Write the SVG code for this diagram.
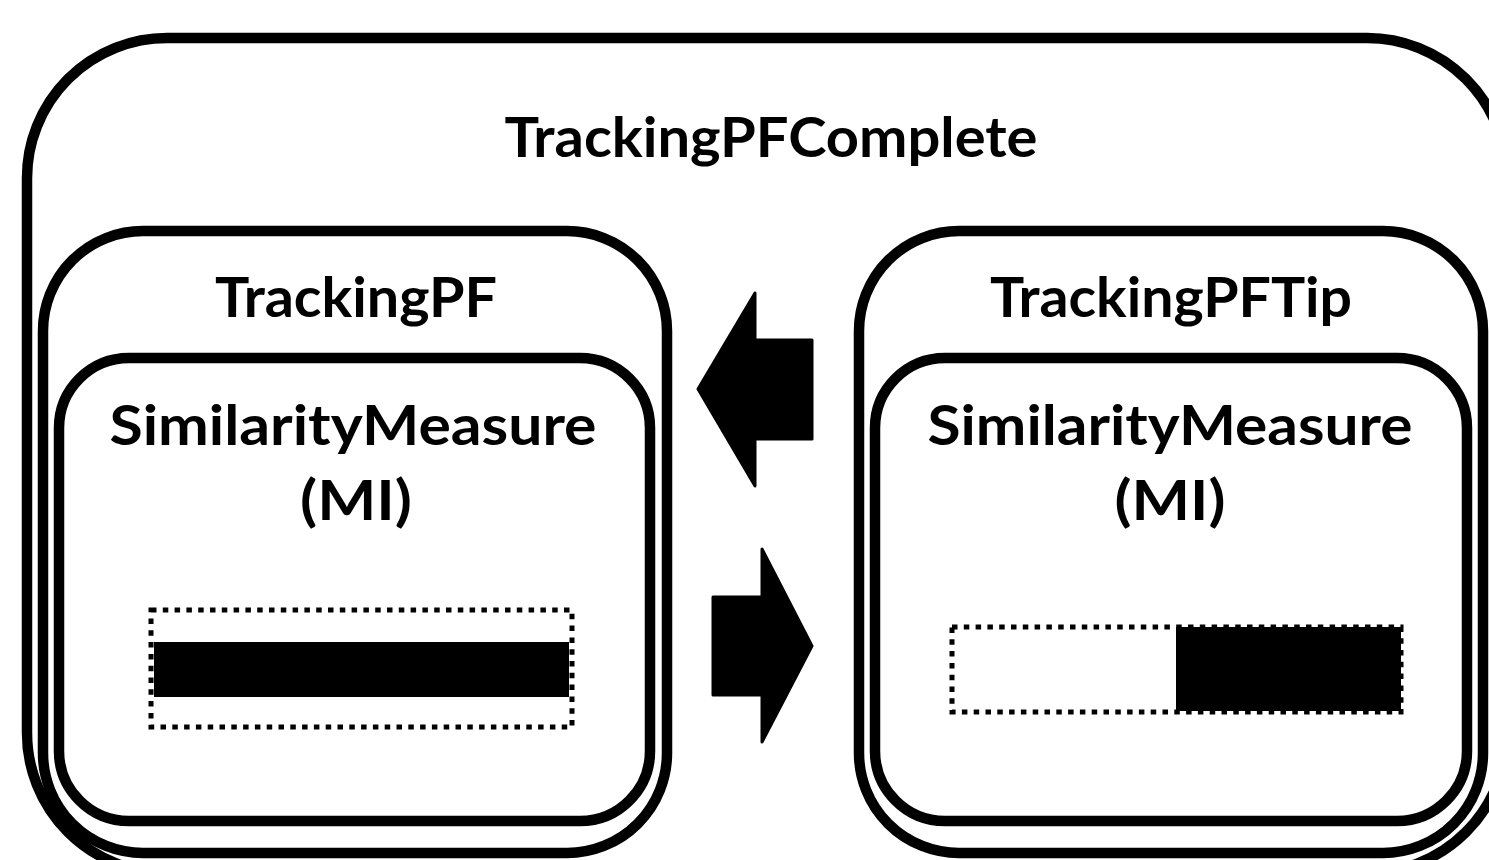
<svg xmlns="http://www.w3.org/2000/svg" width="1489" height="860" viewBox="0 0 1489 860">
  <style>
    .box { fill: none; stroke: #000; stroke-width: 10.5; }
    .lbl { font-family: Lato, "Open Sans", "Liberation Sans", sans-serif; font-weight: bold; font-size: 56px; fill: #000; text-anchor: middle; }
    .dots { fill: none; stroke: #000; stroke-width: 5; stroke-dasharray: 5.5 6.3; }
    .arrow { fill: #000; stroke: #000; stroke-width: 3; stroke-linejoin: round; }
  </style>
  <rect width="1489" height="860" fill="#fff"/>
  <g id="TrackingPFComplete">
    <rect class="box" x="27" y="38" width="1480" height="835" rx="140" ry="140"/>
    <text class="lbl" x="771" y="157" textLength="533" lengthAdjust="spacingAndGlyphs">TrackingPFComplete</text>
  </g>
  <g id="TrackingPF">
    <rect class="box" x="43" y="231" width="624" height="622" rx="100" ry="100"/>
    <text class="lbl" x="356" y="317" textLength="282" lengthAdjust="spacingAndGlyphs">TrackingPF</text>
  </g>
  <g id="SimilarityMeasureLeft">
    <rect class="box" x="59" y="358" width="591" height="463" rx="70" ry="70"/>
    <text class="lbl" x="353" y="445" textLength="487" lengthAdjust="spacingAndGlyphs">SimilarityMeasure</text>
    <text class="lbl" x="356" y="520" textLength="112" lengthAdjust="spacingAndGlyphs">(MI)</text>
    <rect x="154" y="642" width="415" height="55" fill="#000"/>
    <rect class="dots" x="151" y="610" width="421" height="117"/>
  </g>
  <g id="TrackingPFTip">
    <rect class="box" x="859" y="231" width="624" height="622" rx="100" ry="100"/>
    <text class="lbl" x="1171" y="317" textLength="362" lengthAdjust="spacingAndGlyphs">TrackingPFTip</text>
  </g>
  <g id="SimilarityMeasureRight">
    <rect class="box" x="875" y="358" width="592" height="463" rx="70" ry="70"/>
    <text class="lbl" x="1170" y="445" textLength="485" lengthAdjust="spacingAndGlyphs">SimilarityMeasure</text>
    <text class="lbl" x="1170" y="520" textLength="111" lengthAdjust="spacingAndGlyphs">(MI)</text>
    <rect x="1176" y="627" width="225" height="84" fill="#000"/>
    <rect class="dots" x="952" y="627" width="449" height="85"/>
  </g>
  <g id="connectors">
    <polygon class="arrow" points="698,389 755,293 755,340 812,340 812,439 755,439 755,486"/>
    <polygon class="arrow" points="812,646 762,549 762,597 713,597 713,695 762,695 762,742"/>
  </g>
</svg>
